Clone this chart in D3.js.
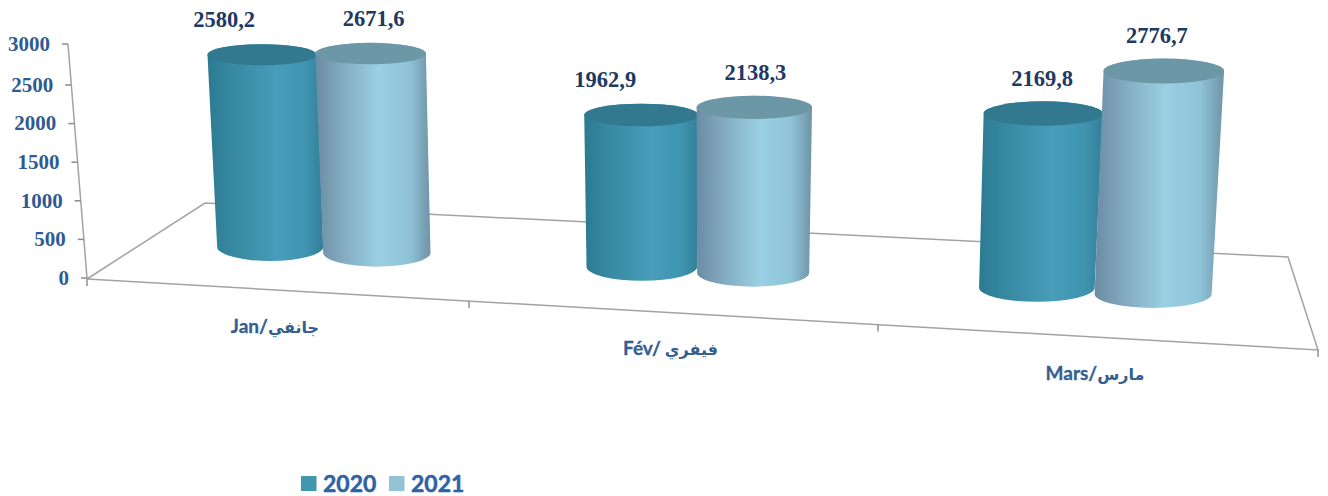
<!DOCTYPE html>
<html>
<head>
<meta charset="utf-8">
<script src="https://cdn.jsdelivr.net/npm/d3@7"></script>
<style>
  html, body { margin: 0; padding: 0; background: #fff; }
  svg { display: block; }
</style>
</head>
<body>
<div id="viz"></div>
<script>
const categories = ["Jan/جانفي", "Fév/ فيفري", "Mars/مارس"];
const seriesNames = ["2020", "2021"];
const values2020 = [2580.2, 1962.9, 2169.8];
const values2021 = [2671.6, 2138.3, 2776.7];
const yTicks = [0, 500, 1000, 1500, 2000, 2500, 3000];

const width = 1328, height = 496;

// the chart is a faked 3D view, these scales stand in for the perspective
const y = d3.scaleLinear().domain([0, 2500, 3000]).range([278, 85, 44]);
const axisLean = d3.scaleLinear().domain([0, 3000]).range([87, 68]);
const frontX = d3.scaleLinear().domain([0, 1, 2, 3]).range([87, 469, 878, 1318]);
const frontY = d3.scaleLinear().domain([87, 1318]).range([279, 350]);
const groupX = d3.scaleLinear().domain([0, 1, 2]).range([323.5, 697.5, 1095]);
const radius = d3.scaleLinear().domain([271, 1154]).range([53, 58.5]);
const baseY = d3.scaleLinear().domain([271, 1154]).range([247, 294]);
const pxPerUnit = d3.scaleLinear().domain([323, 1095]).range([0.0745, 0.0803]);
const lean = d3.scaleLinear().domain([271, 1154]).range([-0.042, 0.048]);
const topRy = d3.scaleLinear().domain([271, 1154]).range([10.5, 12.5]);
const baseRy = 14;
const topGrow = 1.03;
// label nudges, the original labels are not centred on their cylinders
const labelDx = [[-38, 3], [-36, 1], [-1, -7]];

const svg = d3.select("#viz").append("svg")
  .attr("width", width)
  .attr("height", height);

const defs = svg.append("defs");
defs.append("filter").attr("id", "soft")
  .append("feGaussianBlur").attr("stdDeviation", 0.6);

const bodyStops = [
  [[0, "#2b7a92"], [0.18, "#35879f"], [0.6, "#479dba"], [0.85, "#3f94b0"], [1, "#327f98"]],
  [[0, "#6a8ca2"], [0.2, "#80a6bc"], [0.55, "#9ad0e3"], [0.82, "#8fc2d7"], [1, "#6e93a6"]]
];
bodyStops.forEach((stops, i) => {
  defs.append("linearGradient").attr("id", "body" + i)
    .selectAll("stop").data(stops).join("stop")
    .attr("offset", d => d[0])
    .attr("stop-color", d => d[1]);
});
const topFill = ["#32798f", "#6c97a6"];
const swatchFill = ["#4197b0", "#95c3d5"];

// floor
const frontLeft = [87, 279], backLeft = [205, 203], backRight = [1288, 257], frontRight = [1318, 350];
svg.append("path")
  .attr("d", d3.line()([frontLeft, backLeft, backRight, frontRight, frontLeft]))
  .attr("fill", "none")
  .attr("stroke", "#a3a3a3")
  .attr("stroke-width", 1.5);

svg.append("g")
  .selectAll("line")
  .data(d3.range(categories.length + 1))
  .join("line")
  .attr("x1", d => frontX(d))
  .attr("x2", d => frontX(d))
  .attr("y1", d => frontY(frontX(d)))
  .attr("y2", d => frontY(frontX(d)) + 7)
  .attr("stroke", "#909090")
  .attr("stroke-width", 1.5);

// value axis, leaning to the left
svg.append("line")
  .attr("x1", axisLean(0)).attr("y1", y(0))
  .attr("x2", axisLean(3000)).attr("y2", y(3000))
  .attr("stroke", "#a3a3a3")
  .attr("stroke-width", 1.5);

const yAxis = svg.append("g")
  .call(d3.axisLeft(y).tickValues(yTicks).tickSize(6).tickPadding(12).tickFormat(d3.format("d")));
yAxis.select(".domain").remove();
yAxis.selectAll(".tick").attr("transform", d => `translate(${axisLean(d)},${y(d)})`);
yAxis.selectAll(".tick line").attr("stroke", "#8c8c8c").attr("stroke-width", 1.5);
yAxis.selectAll(".tick text")
  .style("font-family", "'Liberation Serif', serif")
  .style("font-weight", "bold")
  .style("font-size", "21px")
  .style("fill", "#2f5b92");

// cylinders
const bars = [];
categories.forEach((c, i) => {
  [values2020[i], values2021[i]].forEach((v, s) => {
    const mid = groupX(i);
    const x0 = mid + (s === 0 ? -1 : 1) * radius(mid);
    const h = v * pxPerUnit(mid);
    const by = baseY(x0);
    bars.push({
      i, s, v, x0, by,
      rx: radius(x0),
      trx: radius(x0) * topGrow,
      x1: x0 + lean(x0) * h,
      ty: by - h,
      ry: topRy(x0)
    });
  });
});

const cyl = svg.append("g")
  .attr("filter", "url(#soft)")
  .selectAll("g")
  .data(bars)
  .join("g");

cyl.append("path")
  .attr("fill", d => `url(#body${d.s})`)
  .attr("d", d => `M${d.x1 - d.trx},${d.ty}
    L${d.x0 - d.rx},${d.by}
    A${d.rx},${baseRy} 0 0 0 ${d.x0 + d.rx},${d.by}
    L${d.x1 + d.trx},${d.ty}
    A${d.trx},${d.ry} 0 0 0 ${d.x1 - d.trx},${d.ty}Z`);

cyl.append("ellipse")
  .attr("cx", d => d.x1)
  .attr("cy", d => d.ty)
  .attr("rx", d => d.trx)
  .attr("ry", d => d.ry)
  .attr("fill", d => topFill[d.s]);

// value labels
svg.append("g")
  .selectAll("text")
  .data(bars)
  .join("text")
  .attr("x", d => d.x1 + labelDx[d.i][d.s])
  .attr("y", d => d.ty - 35)
  .attr("text-anchor", "middle")
  .attr("dy", "0.32em")
  .style("font-family", "'Liberation Serif', serif")
  .style("font-weight", "bold")
  .style("font-size", "22.5px")
  .style("fill", "#1c3a63")
  .text(d => d3.format(".1f")(d.v).replace(".", ","));

// category labels, latin part is bigger than the arabic part in the original
const catLabel = svg.append("g")
  .selectAll("text")
  .data(categories)
  .join("text")
  .attr("x", (d, i) => frontX(i + 0.5) - 3)
  .attr("y", (d, i) => frontY(frontX(i + 0.5)) + 37)
  .attr("text-anchor", "middle")
  .attr("dy", "0.35em")
  .style("font-family", "Lato, 'DejaVu Sans', sans-serif")
  .style("font-weight", "bold")
  .style("fill", "#33608f");

catLabel.append("tspan")
  .style("font-size", "19px")
  .style("stroke", "#33608f")
  .style("stroke-width", 0.3)
  .text(d => d.slice(0, d.indexOf("/") + 1));

catLabel.append("tspan")
  .style("font-size", "16px")
  .text(d => d.slice(d.indexOf("/") + 1));

// legend
const legendX = d3.scaleLinear().domain([0, 1]).range([301, 389]);
const legend = svg.append("g")
  .selectAll("g")
  .data(seriesNames)
  .join("g")
  .attr("transform", (d, i) => `translate(${legendX(i)},476)`);

legend.append("rect")
  .attr("width", 15.5)
  .attr("height", 15)
  .attr("fill", (d, i) => swatchFill[i]);

legend.append("text")
  .attr("x", 22)
  .attr("y", 16)
  .style("font-family", "Lato, sans-serif")
  .style("font-weight", "bold")
  .style("font-size", "23px")
  .style("fill", "#2d62a5")
  .style("stroke", "#2d62a5")
  .style("stroke-width", 0.5)
  .text(d => d);
</script>
</body>
</html>
